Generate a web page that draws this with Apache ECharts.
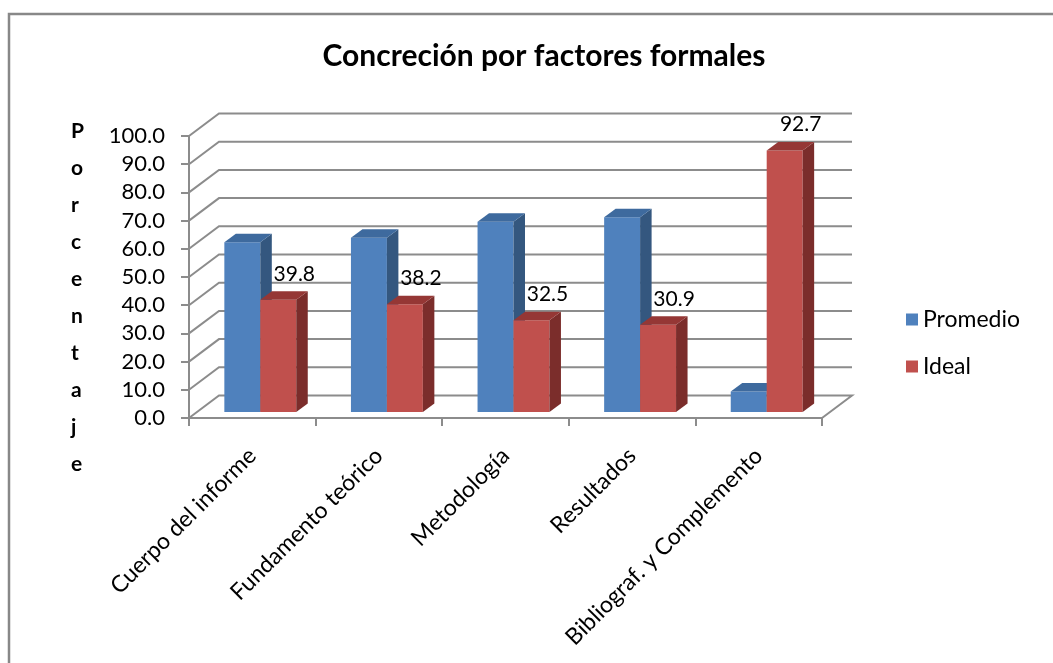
<!DOCTYPE html>
<html>
<head>
<meta charset="utf-8">
<script src="https://cdn.jsdelivr.net/npm/echarts@6/dist/echarts.min.js"></script>
<style>
  html, body { margin: 0; padding: 0; background: #fff; }
  #chart { width: 1053px; height: 663px; }
</style>
</head>
<body>
<div id="chart"></div>
<script>
const categories = ['Cuerpo del informe', 'Fundamento teórico', 'Metodología', 'Resultados', 'Bibliograf. y Complemento'];
const promedio = [60.2, 61.8, 67.5, 69.1, 7.3];
const ideal = [39.8, 38.2, 32.5, 30.9, 92.7];
const ticks = [0, 10, 20, 30, 40, 50, 60, 70, 80, 90, 100];

const FONT = 'Lato, "Open Sans", sans-serif';
// depth of the 3d box and of each bar
const DX = 30, DY = -22.5;
const BX = 8, BY = -6;
const SX = 11.5, SY = -8.5;

const myChart = echarts.init(document.getElementById('chart'));

function wallItem(params, api) {
    const cs = params.coordSys;
    const left = cs.x, right = cs.x + cs.width;
    const y = api.coord([0, api.value(1)])[1];
    const pts = [[left, y], [left + DX, y + DY], [right + DX, y + DY]];
    if (api.value(1) === 0) pts.push([right, y]);
    return {
        type: 'polyline',
        shape: { points: pts },
        style: { stroke: '#8c8c8c', lineWidth: 2, fill: null }
    };
}

function barItem(front, top, side, isRight, withLabel) {
    return function (params, api) {
        const idx = api.value(0);
        const base = api.coord([idx, 0]);
        const head = api.coord([idx, api.value(1)]);
        const bw = api.size([1, 0])[0] * 0.284;
        const x0 = base[0] + BX - (isRight ? 0 : bw);
        const yb = base[1] + BY;
        const yt = head[1] + BY;
        const children = [
            {
                type: 'rect',
                shape: { x: x0, y: yt, width: bw, height: yb - yt },
                style: { fill: front }
            },
            {
                type: 'polygon',
                shape: { points: [[x0 + bw, yt], [x0 + bw + SX, yt + SY], [x0 + bw + SX, yb + SY], [x0 + bw, yb]] },
                style: { fill: side }
            },
            {
                type: 'polygon',
                shape: { points: [[x0, yt], [x0 + SX, yt + SY], [x0 + bw + SX, yt + SY], [x0 + bw, yt]] },
                style: { fill: top }
            }
        ];
        if (withLabel) {
            children.push({
                type: 'text',
                x: x0 + bw / 2 + 16,
                y: yt - 26,
                style: {
                    text: api.value(1).toFixed(1),
                    fill: '#000',
                    font: '21px ' + FONT,
                    align: 'center',
                    verticalAlign: 'middle'
                }
            });
        }
        return { type: 'group', children: children };
    };
}

const option = {
    animation: false,
    backgroundColor: '#fff',
    title: {
        text: 'Concreción por factores formales',
        left: 539,
        top: 36,
        textAlign: 'center',
        textStyle: { fontFamily: FONT, fontSize: 30, fontWeight: 'bold', color: '#000' }
    },
    legend: {
        orient: 'vertical',
        left: 901,
        top: 302,
        itemWidth: 12,
        itemHeight: 12,
        itemGap: 22,
        icon: 'rect',
        textStyle: { fontFamily: FONT, fontSize: 23, color: '#000', lineHeight: 25 },
        data: ['Promedio', 'Ideal']
    },
    graphic: [
        {
            type: 'rect',
            shape: { x: 9, y: 14, width: 1100, height: 700 },
            style: { fill: null, stroke: '#888', lineWidth: 2.5 },
            silent: true
        },
        {
            type: 'text',
            left: 71,
            top: 113,
            style: {
                text: 'P\no\nr\nc\ne\nn\nt\na\nj\ne',
                font: 'bold 21px ' + FONT,
                fill: '#000',
                lineHeight: 37,
                align: 'center'
            }
        }
    ],
    grid: { left: 189, right: 231, top: 136, bottom: 245 },
    xAxis: {
        type: 'category',
        data: categories,
        axisLine: { lineStyle: { color: '#8c8c8c', width: 2 } },
        axisTick: { show: true, length: 8, lineStyle: { color: '#8c8c8c', width: 2 } },
        axisLabel: { rotate: 45, interval: 0, margin: 34, fontFamily: FONT, fontSize: 23, color: '#000' },
        splitLine: { show: false }
    },
    yAxis: {
        type: 'value',
        min: 0,
        max: 100,
        interval: 10,
        axisLine: { show: true, lineStyle: { color: '#8c8c8c', width: 2 } },
        axisTick: { show: true, length: 8, lineStyle: { color: '#8c8c8c', width: 2 } },
        axisLabel: { margin: 24, fontFamily: FONT, fontSize: 22, color: '#000', formatter: v => v.toFixed(1) },
        splitLine: { show: false }
    },
    series: [
        {
            name: 'walls',
            type: 'custom',
            z: 1,
            silent: true,
            renderItem: wallItem,
            encode: { x: 0, y: 1 },
            data: ticks.map(v => [0, v])
        },
        {
            name: 'Promedio',
            type: 'custom',
            z: 2,
            itemStyle: { color: '#4F81BD' },
            renderItem: barItem('#4F81BD', '#3E6A9E', '#34577F', false, false),
            encode: { x: 0, y: 1 },
            data: promedio.map((v, i) => [i, v])
        },
        {
            name: 'Ideal',
            type: 'custom',
            z: 3,
            itemStyle: { color: '#C0504D' },
            renderItem: barItem('#C0504D', '#953735', '#7B2D2B', true, true),
            encode: { x: 0, y: 1 },
            data: ideal.map((v, i) => [i, v])
        }
    ]
};

myChart.setOption(option);
window.addEventListener('resize', () => myChart.resize());
</script>
</body>
</html>
